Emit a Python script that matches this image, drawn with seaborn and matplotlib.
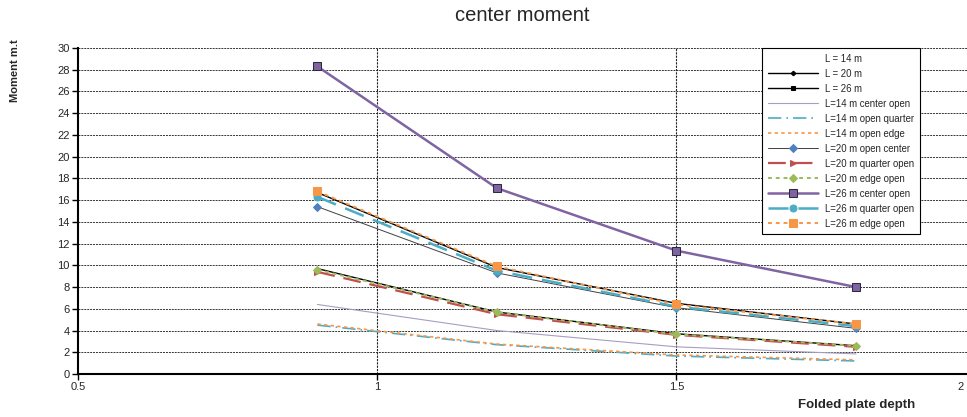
import numpy as np
import pandas as pd
import matplotlib
matplotlib.use("Agg")
import matplotlib.pyplot as plt
import matplotlib.transforms as mtrans
import seaborn as sns

# data
depth = [0.9, 1.2, 1.5, 1.8]

L14 = [4.6, 2.7, 1.8, 1.3]
L20 = [9.7, 5.7, 3.7, 2.6]
L26 = [16.7, 9.8, 6.5, 4.6]
L14_center = [6.4, 4.0, 2.5, 1.85]
L14_quarter = [4.5, 2.7, 1.65, 1.2]
L14_edge = [4.6, 2.75, 1.75, 1.3]
L20_center = [15.4, 9.3, 6.1, 4.2]
L20_quarter = [9.4, 5.5, 3.6, 2.5]
L20_edge = [9.6, 5.7, 3.65, 2.6]
L26_center = [28.3, 17.1, 11.35, 8.0]
L26_quarter = [16.3, 9.5, 6.2, 4.4]
L26_edge = [16.8, 9.9, 6.4, 4.6]

y_ticks = list(range(0, 31, 2))
x_ticks = [0.5, 1, 1.5, 2]

sns.set_style("white")
plt.rcParams["font.family"] = ["Liberation Sans", "DejaVu Sans"]

fig = plt.figure(figsize=(9.67, 4.17), dpi=100)
ax = fig.add_axes([0.0807, 0.1031, 0.9283, 0.7818])

# (label, values, color, linestyle, lw, marker, msize, mfc, zorder)
series = [
    ("L = 14 m", L14, "#000000", "none", 1.0, None, 0, None, 1),
    ("L = 20 m", L20, "#000000", "-", 1.0, "P", 3, "#000000", 2),
    ("L = 26 m", L26, "#000000", "-", 1.0, "s", 3, "#000000", 2),
    ("L=14 m center open", L14_center, "#a79dc2", "-", 0.8, None, 0, None, 2),
    ("L=14 m open quarter", L14_quarter, "#4bacc6", (0, (8, 3, 1, 3)), 1.2, None, 0, None, 3),
    ("L=14 m open edge", L14_edge, "#f79646", (0, (2, 2)), 1.2, None, 0, None, 4),
    ("L=20 m open center", L20_center, "#404040", "-", 0.7, "D", 4, "#4f81bd", 4),
    ("L=20 m quarter open", L20_quarter, "#c0504d", (0, (8, 4)), 1.6, ">", 4, "#c0504d", 3),
    ("L=20 m edge open", L20_edge, "#9bbb59", (0, (2, 2)), 1.4, "D", 4, "#9bbb59", 5),
    ("L=26 m center open", L26_center, "#8064a2", "-", 1.8, "s", 6, "#8064a2", 6),
    ("L=26 m quarter open", L26_quarter, "#4bacc6", (0, (8, 4)), 1.8, "o", 5, "#4bacc6", 4),
    ("L=26 m edge open", L26_edge, "#f79646", (0, (2, 2)), 1.4, "s", 6, "#f79646", 5),
]

for label, vals, col, ls, lw, mk, ms, mfc, z in series:
    df = pd.DataFrame({"depth": depth, "moment": vals})
    mec = "#2a2a40" if label == "L=26 m center open" else mfc
    sns.lineplot(data=df, x="depth", y="moment", ax=ax, color=col, linestyle=ls,
                 linewidth=lw, marker=mk, markersize=ms, markerfacecolor=mfc,
                 markeredgecolor=mec, label=label, zorder=z)

ax.set_xlim(0.5, 2)
ax.set_ylim(0, 30)
ax.set_yticks(y_ticks)
ax.set_xticks(x_ticks)
ax.set_xticklabels(["0.5", "1", "1.5", "2"])
ax.tick_params(axis="both", labelsize=8, direction="out", length=4, width=1, color="black",
               left=True, bottom=True, pad=2)
# the "2" label sits past the figure edge, pull it back inside
last = ax.get_xticklabels()[-1]
last.set_transform(last.get_transform() + mtrans.ScaledTranslation(-0.15, 0, fig.dpi_scale_trans))

for yv in y_ticks[1:]:
    ax.axhline(yv, color="#333333", linestyle=(0, (2, 1)), linewidth=0.7, zorder=0)
for xv in [1, 1.5, 2]:
    ax.axvline(xv, color="#222222", linestyle=(0, (2, 1)), linewidth=0.8, zorder=0)

for s in ["top", "right"]:
    ax.spines[s].set_visible(False)
for s in ["left", "bottom"]:
    ax.spines[s].set_color("black")
    ax.spines[s].set_linewidth(1.5)

ax.set_xlabel("")
ax.set_ylabel("")
fig.text(0.54, 0.963, "center moment", ha="center", va="center", fontsize=14.5)
fig.text(0.016, 0.83, "Moment m.t", rotation=90, ha="center", va="center",
         fontsize=8, fontweight="bold", fontstretch="condensed")
fig.text(0.886, 0.028, "Folded plate depth", ha="center", va="center",
         fontsize=9.5, fontweight="bold")

leg = ax.legend(loc="upper left", bbox_to_anchor=(0.762, 1.0), fontsize=6.9,
                frameon=True, fancybox=False, edgecolor="black", framealpha=1,
                labelspacing=0.52, handlelength=5.2, borderpad=0.6, borderaxespad=0)
leg.get_frame().set_linewidth(0.8)

fig.savefig("out.png", dpi=100)
